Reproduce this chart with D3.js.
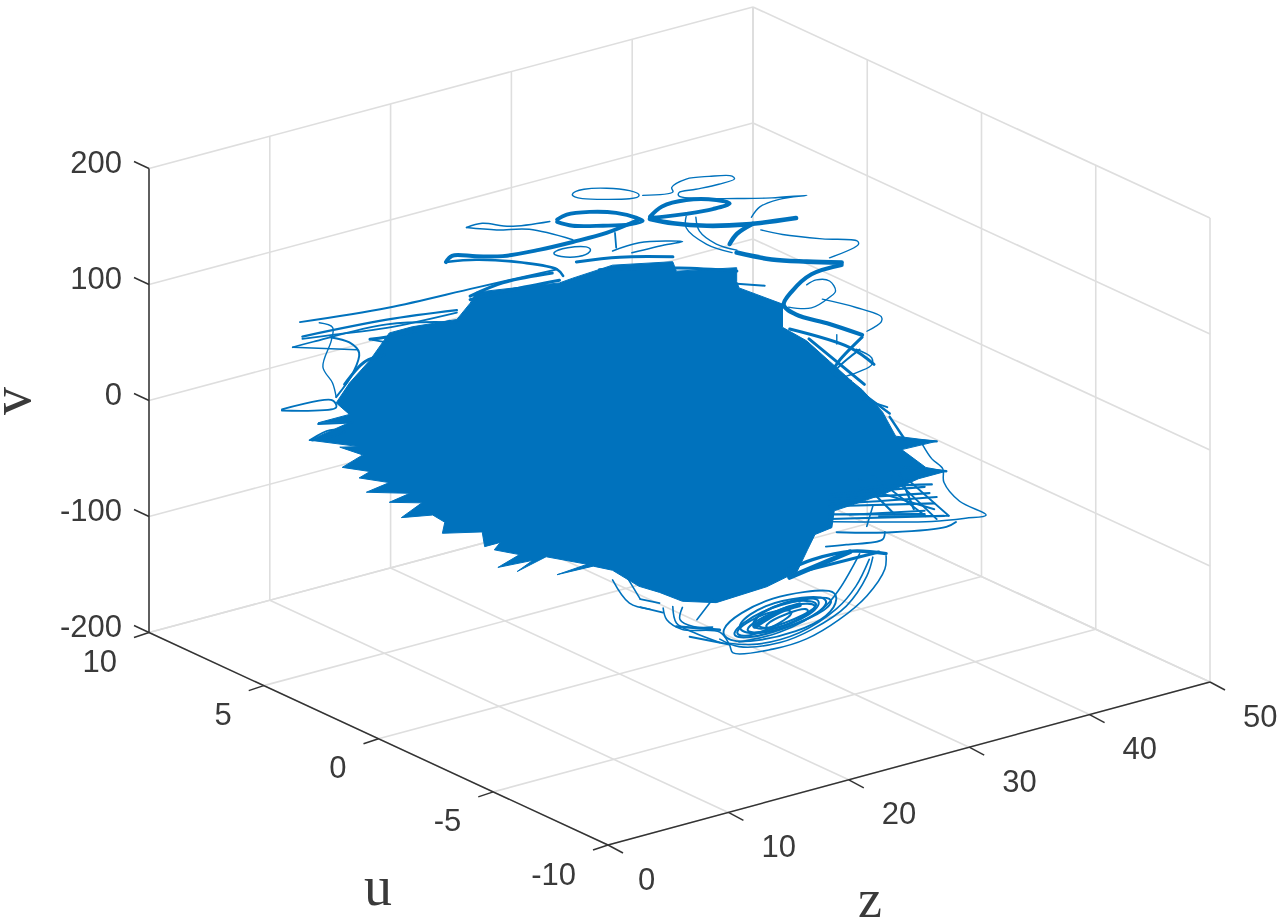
<!DOCTYPE html>
<html><head><meta charset="utf-8">
<style>html,body{margin:0;padding:0;background:#fff}svg{display:block;filter:blur(0.4px)}</style>
<script src="https://cdn.jsdelivr.net/npm/d3@7"></script></head>
<body><svg id="c" width="1277" height="922"></svg>
<script>
const uTicks=[10,5,0,-5,-10];
const zTicks=[0,10,20,30,40,50];
const vTicks=[-200,-100,0,100,200];

// main cloud outline
const blobU=[5,5,5,5,5,5,5,5, 0,0,0,0,0,0,0,0,0,0,0, -5,-5,-5,-5,-5,-5,-5,-5,-5,-5,-5,-5,-5,-5,-5,-5,-5,-5, 0,0,0,0,0,0,0,0,0,0,0,0,0,0,0,0,0, 5,5,5,5,5,5,5,5,5,5,5,5,5,5,5,5,5,5,5,5];
const blobZ=[6,7.1,8.8,10.4,12.3,16,17.1,17.6, 12,15,16.1,19.4,24.4,24.7,29.7,29.7,29.9,33.5,33.5, 26,27.9,29.8,30.6,32.3,33.4,36.8,33.9,35.9,37.6,35.3,32.5,30,28.3,28.1,26.7,26.1,25.2, 32.2,28,25.2,23.3,21.6,19.4,17.8,14.8,17.3,13.9,11.5,12.8,9.9,11.7,9.6,10.1,8.8, 18.1,14.8,15,14,11.4,13.1,10.4,12.1,8.5,10.4,7.9,8.8,6.5,8.2,6.3,7.9,3.8,7.1,4.5,7.1];
const blobV=[27,41,56,75,75,71,82,90, 156,151,152,154,143,134,123,111,105,81,61, 116,93,70,61,37,13,-1,0,-21,-29,-29,-34,-36,-37,-51,-53,-64,-81, -159,-161,-152,-139,-129,-109,-101,-100,-98,-82,-88,-82,-80,-74,-64,-59,-59, -118,-110,-101,-92,-87,-79,-71,-68,-57,-54,-43,-40,-30,-24,-12,-16,1,7,14,14];

// top loops, u = 5
const loopAZ=[25.2,26.4,28.4,30.5,31.4,30.5,28.4,26.2], loopAV=[153,155,150,142,135,134,140,146];
const loopBZ=[31.4,33.9,33.8,35,36.9,38.8,39,37.7,35.8,34.4,34.4,39.4,42.1,45,42.7,41.1,40.4], loopBV=[135,131,135,139,136,131,128,127,128,129,126,110,103,97,100,98,91];
const loopCZ=[24.3,25.1,27,29.2,30.9,31.4,30.3,28.1,25.6,24.3], loopCV=[134,136,133,126,117,113,113,118,125,132];
const loopDZ=[32,33,35,37.5,38.6,37.2,35,33,32], loopDV=[115,121,121,114,108,107,109,112,114];
const armEZ=[32,33.9,36.7,40,44.1], armEV=[113,104,94,86,80];
const armFZ=[38.6,39.2,40.5], armFV=[73,80,85];
const armGZ=[15.1,15.6,17.6,19.8,22.8,25.6,28.4,31.1], armGV=[123,127,121,115,112,111,111,115];
const armG2Z=[15.1,17.6,21.4,24.3,24.8], armG2V=[123,118,105,91,84];
const wispHZ=[16.8,18.1,20.4,23.7], wispHV=[148,148,139,134];
const wispH2Z=[16.8,19.3,22,25.6], wispH2V=[148,139,132,113];
const loopIZ=[23.7,25.1,27,27.2,26.2,24.5], loopIV=[107,108,104,98,96,101];
const wispJZ=[29.1,29.2], wispJV=[109,96];
const arcJZ=[28.9,31.1,34.7,33.4,30.5], arcJV=[94,95,86,87,88];
const wispKZ=[35,35,36.7,38.8], wispKV=[107,97,78,65];
const wispK2Z=[35.8,36.1,37.5,39.2], wispK2V=[104,91,76,66];
const strayQZ=[3,10.3,17.6,24.3], strayQV=[105,97,94,91];
const strayRZ=[3.2,10.2,16], strayRV=[92,87,79];
const straySZ=[3.2,6,10.2,16], straySV=[90,86,80,77];
const strayTZ=[2.4,4.1,10.2,16.2], strayTV=[85,85,83,68];
const strayT2Z=[2.4,7.7], strayT2V=[85,68];
const curlUZ=[4.6,5.7,5.6,4.9,5.7,6], curlUV=[100,93,82,61,45,32];
const curlVZ=[5.5,7.1,7.9,7.4,6], curlVV=[85,76,65,49,32];
const strayWZ=[9,10.3], strayWV=[73,67];
const spikeXZ=[1.5,5.7,6,1.5], spikeXV=[34,30,23,33];
const spikeYZ=[3.8,5.5,6.7,4], spikeYV=[1,5,0,0];
const spikeZZ=[4.5,7.4], spikeZV=[13,6];
const ridgeAZ=[17.1,19.8,23.9], ridgeAV=[88,92,89];
const ridgeBZ=[25.9,29.5,33.9], ridgeBV=[93,87,75];
const ridgeCZ=[27.8,34.4,39.2], ridgeCV=[81,64,48];
const ridgeDZ=[39.2,41.5], ridgeDV=[37,29];
const edgeAZ=[8.8,11.3,15.4], edgeAV=[74,71,71];
const edgeBZ=[6.7,8.4,10], edgeBV=[41,56,57];
const edgeCZ=[17.1,20.4,24.5], edgeCV=[85,84,81];

// upper right curves, u = 0
const armMZ=[29.7,32.6,35.5,38.4], armMV=[136,122,112,103];
const armM2Z=[38.4,35.9,34.3,33.6,34.6,37.4,40.1], armM2V=[101,100,90,80,69,53,36];
const armM3Z=[40.1,38.2,37.6], armM3V=[34,19,11];
const wispTZ=[31.7,33.5,36.8,39.7,39.8,37.4], wispTV=[150,141,128,118,115,110];
const loopNZ=[35.5,36.3,37.4,37.9,37.4,35.9,34], loopNV=[92,94,90,80,76,71,77];
const wispOZ=[36.8,39.6,41.7,41.7,40.5], wispOV=[76,61,47,43,38];
const loopPZ=[39.6,40.9,40.9,39.9,38.8], loopPV=[25,14,8,5,4];
const wispRZ=[38,38], wispRV=[42,34];

// right fringe, u = -5
const fringeAZ=[35.6,36.4,37.3,37.4,38.7,40.9,39.2,36.4,32.3,28.1], fringeAV=[0,-15,-26,-38,-58,-76,-74,-69,-58,-46];
const fringeBZ=[38.4,37.6,33.1,28.5], fringeBV=[-75,-77,-69,-56];
const fringeCZ=[32.5,32.3,29.3,27.6], fringeCV=[-67,-73,-69,-66];
const fringeDZ=[36.8,31.5,28.1], fringeDV=[-49,-38,-30];
const fringeEZ=[36.4,33.1,30.4], fringeEV=[-37,-29,-24];
const fringeFZ=[37.6,33.9], fringeFV=[-29,-15];
const fringeGZ=[36.8,33.9], fringeGV=[-1,9];
const fringeHZ=[32.7,30.6], fringeHV=[40,53];
const webAZ=[31.5,35.9], webAV=[-16,-63];
const webBZ=[33.1,36.8], webBV=[-21,-68];
const webCZ=[34.3,37.8], webCV=[-26,-68];
const webDZ=[32,37.8], webDV=[-52,-68];
const webEZ=[31,31.5], webEV=[-58,-42];
const webFZ=[31.2,36.6], webFV=[-27,-59];
const webGZ=[29.6,35.8], webGV=[-44,-58];
const hatchAZ=[27.9,35.8], hatchAV=[-22,-37.5];
const hatchBZ=[27.9,36.2], hatchBV=[-26,-44];
const hatchCZ=[27.9,36.6], hatchCV=[-32,-54];
const hatchDZ=[27.9,35.8], hatchDV=[-39,-61];
const hatchEZ=[27.9,37.4], hatchEV=[-43,-67];
const hatchFZ=[33.7,34.9], hatchFV=[-20,-54];
const hatchGZ=[30.4,33.3], hatchGV=[-16,-54];
const rimAZ=[24.6,29.6,31.6], rimAV=[130,100,80];
const rimBZ=[26.2,30.8], rimBV=[117,65];
const rimCZ=[30.4,28.3,29.7], rimCV=[96,81,71];
const rimDZ=[30.8,32.9], rimDV=[56,34];
const rimEZ=[32.9,34.1], rimEV=[31,9];

// bottom orbits, u = -5
const arc1Z=[32.6,32.5,31,28.7,26,23.2,19.9,19.6,18.8,15.7,14.4,14.1], arc1V=[-88,-99,-118,-132,-141,-142,-136,-128,-115,-104,-92,-81];
const arc2Z=[31.5,31,29.3,26.5,23.8,20.4,18.8], arc2V=[-86,-101,-122,-134,-138,-132,-121];
const arc3Z=[31.2,30.1,28.5,25.4,21.9,19.4], arc3V=[-87,-107,-122,-134,-134,-126];
const arc4Z=[30.4,28.7,27.3,23.8,20.4], arc4V=[-80,-106,-119,-129,-128];
const bandZ=[32.6,29.8,26.5,24], bandV=[-86,-76,-74,-78];
const wedgeAZ=[29.6,24.6], wedgeAV=[-76,-84];
const wedgeBZ=[32,26.2], wedgeBV=[-83,-82];
const orbit1Z=[18.8,20.4,23.2,26,28.1,28.7,27.9,25.2,21.9,19.4], orbit1V=[-113,-103,-97,-100,-104,-113,-127,-133,-132,-125];
const orbit2Z=[20,22.5,25.8,27.9,27.5,24.2,20.9], orbit2V=[-112,-101,-104,-110,-121,-128,-124];
const orbit3Z=[21.3,23.8,26.7,27.1,24.2,21.7], orbit3V=[-111,-103,-109,-117,-123,-123];
const orbit4Z=[19.6,22.9,25.4,23.8,20.9], orbit4V=[-117,-107,-114,-122,-127];
const orbit5Z=[20.4,24.6,27.5,25.4,21.7], orbit5V=[-117,-106,-114,-124,-126];
const orbit6Z=[22.1,24.6,26.2,26.2,23.3], orbit6V=[-119,-114,-114,-121,-127];
const orbit7Z=[19.2,22.1,26.2,28.3,27.9,24.6,21.3], orbit7V=[-120,-105,-106,-111,-121,-127,-128];
const orbit8Z=[20.9,24.2,27.5,26.7,22.9], orbit8V=[-112,-102,-108,-122,-127];
const coreZ=[21.7,23.8,25.4], coreV=[-118,-111,-110];
const hookAZ=[14.9,15.2,16.6,18.8], hookAV=[-82,-97,-109,-124];
const hookBZ=[15.7,15.5,16.6,18.2], hookBV=[-85,-95,-104,-109];
const hookCZ=[18.2,16.9], hookCV=[-85,-99];
const hookDZ=[12.2,14.1], hookDV=[-75,-85];
const hookEZ=[12.2,13.8], hookEV=[-68,-76];
const hookFZ=[9.9,11.3,13], hookFV=[-45,-69,-79];
const hookGZ=[11.1,12.2], hookGV=[-46,-68];
const hookHZ=[15.2,18.8], hookHV=[-100,-113];
const hookIZ=[16.3,19.6], hookIV=[-112,-128];

const blue="#0072BD", axisCol="#333333", gridCol="#dedede", textCol="#3a3a3a";
const uS=d3.scaleLinear().domain([10,-10]).range([0,1]);
const zS=d3.scaleLinear().domain([0,50]).range([0,1]);
const vS=d3.scaleLinear().domain([-200,200]).range([0,1]);
function project(u,z,v){
  const a=uS(u),b=zS(z),c=vS(v);
  return [149+459*a+604*b-2*a*b, 632.5+212.5*a-161.5*b-1.5*a*b-464*c];
}
const svg=d3.select("#c");
const gridG=svg.append("g").attr("stroke",gridCol).attr("stroke-width",1.6).attr("fill","none");
const seg=(g,p,q)=>g.append("line").attr("x1",p[0]).attr("y1",p[1]).attr("x2",q[0]).attr("y2",q[1]);
uTicks.forEach(u=>seg(gridG,project(u,0,-200),project(u,50,-200)));
zTicks.forEach(z=>seg(gridG,project(10,z,-200),project(-10,z,-200)));
zTicks.forEach(z=>seg(gridG,project(10,z,-200),project(10,z,200)));
uTicks.forEach(u=>seg(gridG,project(u,50,-200),project(u,50,200)));
vTicks.forEach(v=>{seg(gridG,project(10,0,v),project(10,50,v));seg(gridG,project(10,50,v),project(-10,50,v));});

// cloud
const line3=d3.line().x(d=>d[0]).y(d=>d[1]);
const pts=blobZ.map((z,i)=>project(blobU[i],z,blobV[i]));
svg.append("path").attr("d",line3(pts)+"Z").attr("fill",blue).attr("stroke",blue).attr("stroke-width",1);

const curved=d3.line().x(d=>d[0]).y(d=>d[1]).curve(d3.curveCatmullRom.alpha(0.5));
const looped=d3.line().x(d=>d[0]).y(d=>d[1]).curve(d3.curveBasisClosed);
const curves=[
 [5,loopAZ,loopAV,1.4,1],[5,loopBZ,loopBV,1.4],[5,loopCZ,loopCV,3.8],[5,loopDZ,loopDV,4],[5,armEZ,armEV,4.6],[5,armFZ,armFV,4.4],
 [5,armGZ,armGV,4],[5,armG2Z,armG2V,2.6],[5,wispHZ,wispHV,1.5],[5,wispH2Z,wispH2V,1.5],[5,loopIZ,loopIV,1.5,1],[5,wispJZ,wispJV,1.8],[5,arcJZ,arcJV,1.6],
 [5,wispKZ,wispKV,1.4],[5,wispK2Z,wispK2V,1.4],[5,strayQZ,strayQV,1.9],[5,strayRZ,strayRV,2.3],[5,straySZ,straySV,1.8],[5,strayTZ,strayTV,1.8],[5,strayT2Z,strayT2V,1.6],
 [5,curlUZ,curlUV,1.4],[5,curlVZ,curlVV,2],[5,strayWZ,strayWV,1.8],[5,spikeXZ,spikeXV,1.8],[5,spikeYZ,spikeYV,1.8],[5,spikeZZ,spikeZV,1.8],
 [5,ridgeAZ,ridgeAV,3],[5,ridgeBZ,ridgeBV,3],[5,ridgeCZ,ridgeCV,3],[5,ridgeDZ,ridgeDV,2],[5,edgeAZ,edgeAV,3],[5,edgeBZ,edgeBV,3],[5,edgeCZ,edgeCV,3],
 [0,armMZ,armMV,4.6],[0,armM2Z,armM2V,4.2],[0,armM3Z,armM3V,3],[0,wispTZ,wispTV,1.4],[0,loopNZ,loopNV,1.4],[0,wispOZ,wispOV,1.4],[0,loopPZ,loopPV,1.4],[0,wispRZ,wispRV,1.4],
 [-5,fringeAZ,fringeAV,1.5],[-5,fringeBZ,fringeBV,2],[-5,fringeCZ,fringeCV,1.7],[-5,fringeDZ,fringeDV,2.1],[-5,fringeEZ,fringeEV,2.1],[-5,fringeFZ,fringeFV,2.4],[-5,fringeGZ,fringeGV,2.4],[-5,fringeHZ,fringeHV,2],
 [-5,webAZ,webAV,1.9],[-5,webBZ,webBV,1.9],[-5,webCZ,webCV,1.9],[-5,webDZ,webDV,1.7],[-5,webEZ,webEV,1.6],[-5,webFZ,webFV,1.9],[-5,webGZ,webGV,1.9],
 [-5,hatchAZ,hatchAV,2.2],[-5,hatchBZ,hatchBV,2.2],[-5,hatchCZ,hatchCV,2.2],[-5,hatchDZ,hatchDV,2.2],[-5,hatchEZ,hatchEV,2.2],[-5,hatchFZ,hatchFV,2.2],[-5,hatchGZ,hatchGV,2.2],
 [-5,rimAZ,rimAV,3],[-5,rimBZ,rimBV,3],[-5,rimCZ,rimCV,2],[-5,rimDZ,rimDV,2.5],[-5,rimEZ,rimEV,2.5],
 [-5,arc1Z,arc1V,1.6],[-5,arc2Z,arc2V,1.6],[-5,arc3Z,arc3V,1.6],[-5,arc4Z,arc4V,1.6],[-5,bandZ,bandV,3.4],[-5,wedgeAZ,wedgeAV,5],[-5,wedgeBZ,wedgeBV,3],
 [-5,orbit1Z,orbit1V,1.9,1],[-5,orbit2Z,orbit2V,2.1,1],[-5,orbit3Z,orbit3V,2.1,1],[-5,orbit4Z,orbit4V,2.1,1],[-5,orbit5Z,orbit5V,2.1,1],[-5,orbit6Z,orbit6V,2.1,1],[-5,orbit7Z,orbit7V,2,1],[-5,orbit8Z,orbit8V,2,1],[-5,coreZ,coreV,5],
 [-5,hookAZ,hookAV,1.6],[-5,hookBZ,hookBV,1.6],[-5,hookCZ,hookCV,1.6],[-5,hookDZ,hookDV,1.7],[-5,hookEZ,hookEV,1.7],[-5,hookFZ,hookFV,1.6],[-5,hookGZ,hookGV,1.6],[-5,hookHZ,hookHV,2.6],[-5,hookIZ,hookIV,2]
];
const curveG=svg.append("g").attr("fill","none").attr("stroke",blue).attr("stroke-linejoin","round").attr("stroke-linecap","round");
curveG.selectAll("path").data(curves).join("path")
  .attr("stroke-width",d=>d[3])
  .attr("d",d=>(d[4]?looped:curved)(d[1].map((z,i)=>project(d[0],z,d[2][i]))));

// axes
const axG=svg.append("g").attr("stroke",axisCol).attr("fill","none").attr("stroke-width",1.5);
seg(axG,project(10,0,-200),project(10,0,200));
seg(axG,project(10,0,-200),project(-10,0,-200));
seg(axG,project(-10,0,-200),project(-10,50,-200));
const off=(p,dx,dy)=>[p[0]+dx,p[1]+dy];
const sans="'Liberation Sans',Arial,sans-serif";
const txt=(p,s,anchor)=>svg.append("text").attr("x",p[0]).attr("y",p[1]).attr("text-anchor",anchor).attr("dominant-baseline","central")
  .attr("font-family",sans).attr("font-size",31).attr("fill",textCol).text(s);
vTicks.forEach(v=>{const p=project(10,0,v);seg(axG,p,off(p,-15,-7));txt(off(p,-27,-6),v,"end");});
uTicks.forEach(u=>{const p=project(u,0,-200);seg(axG,p,off(p,-15,5));txt(off(p,-32,29),u,"end");});
zTicks.forEach(z=>{const p=project(-10,z,-200);seg(axG,p,off(p,15,8));txt(off(p,z===0?30:33,34),z,"start");});

// axis titles
const serif="'Liberation Serif','Times New Roman',serif";
svg.append("text").attr("x",378).attr("y",905).attr("text-anchor","middle").attr("font-family",serif).attr("font-size",56).attr("fill",textCol).text("u");
svg.append("text").attr("x",870).attr("y",917).attr("text-anchor","middle").attr("font-family",serif).attr("font-size",54).attr("fill",textCol).text("z");
svg.append("text").attr("transform","translate(30,401) rotate(-90)").attr("text-anchor","middle").attr("font-family",serif).attr("font-size",56).attr("fill",textCol).text("v");
</script></body></html>
